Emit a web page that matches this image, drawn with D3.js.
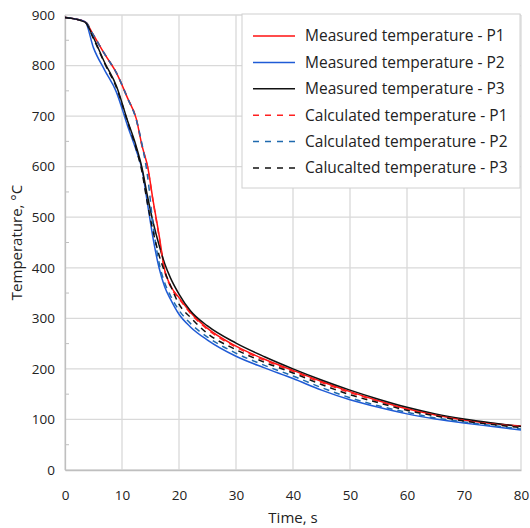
<!DOCTYPE html>
<html>
<head>
<meta charset="utf-8">
<script src="https://cdn.jsdelivr.net/npm/d3@7"></script>
<style>
  body { margin: 0; background: #fff; }
  text { font-family: "Open Sans", sans-serif; fill: #222; }
</style>
</head>
<body>
<script>
var timeS      = [0, 3.5, 5, 7, 9, 11, 12.5, 13.5, 14.5, 15.5, 16.5, 17.5, 18.5, 20, 22, 25, 30, 35, 40, 45, 50, 55, 60, 65, 70, 75, 80]
var measuredP1 = [895, 887, 860, 822, 786, 735, 695, 642, 600, 530, 465, 395, 365, 341, 312, 280, 245, 219, 197, 175, 155, 137, 121, 109, 99, 92, 87]
var measuredP2 = [895, 887, 835, 790, 748, 680, 632, 595, 525, 455, 400, 362, 338, 308, 283, 257, 225, 202, 181, 158, 139, 124, 111, 101, 93, 86, 79]
var measuredP3 = [895, 886, 855, 805, 760, 690, 640, 598, 540, 488, 445, 408, 380, 348, 315, 285, 251, 224, 200, 178, 158, 140, 124, 111, 101, 93, 86]
var calcP1     = [895, 887, 860, 822, 786, 735, 694, 641, 598, 528, 462, 393, 363, 339, 310, 278, 243, 217, 195, 173, 153, 136, 120, 108, 98, 91, 86]
var calcP2     = [895, 887, 860, 822, 786, 735, 693, 645, 580, 480, 410, 370, 345, 316, 290, 263, 231, 207, 186, 163, 143, 127, 114, 103, 95, 88, 81]
var calcP3     = [895, 886, 853, 803, 757, 688, 635, 590, 525, 470, 425, 392, 365, 328, 302, 270, 238, 213, 192, 169, 149, 133, 118, 107, 97, 90, 84]

var seriesNames = ['Measured temperature - P1', 'Measured temperature - P2', 'Measured temperature - P3',
                   'Calculated temperature - P1', 'Calculated temperature - P2', 'Calucalted temperature - P3']
var seriesColors = ['#ff1010', '#1f5bd6', '#111111', '#ff2020', '#1f6aae', '#111111']
var seriesDashed = [false, false, false, true, true, true]
var seriesValues = [measuredP1, measuredP2, measuredP3, calcP1, calcP2, calcP3]

var xTicks = [0, 10, 20, 30, 40, 50, 60, 70, 80]
var yTicks = [0, 100, 200, 300, 400, 500, 600, 700, 800, 900]
var yMinorTicks = [50, 150, 250, 350, 450, 550, 650, 750, 850]

var width = 530, height = 528
var plotLeft = 65, plotRight = 521, plotTop = 15, plotBottom = 470

var svg = d3.select('body').append('svg')
            .attr('width', width)
            .attr('height', height)

var x = d3.scaleLinear().domain([0, 80]).range([plotLeft, plotRight])
var y = d3.scaleLinear().domain([0, 900]).range([plotBottom, plotTop])

// grid
svg.append('g')
  .selectAll('line')
  .data(xTicks)
  .join('line')
  .attr('x1', d => x(d)).attr('x2', d => x(d))
  .attr('y1', plotTop).attr('y2', plotBottom)
  .attr('stroke', '#d9d9d9').attr('stroke-width', 1.3)
svg.append('g')
  .selectAll('line')
  .data(yTicks)
  .join('line')
  .attr('x1', plotLeft).attr('x2', plotRight)
  .attr('y1', d => y(d)).attr('y2', d => y(d))
  .attr('stroke', '#d9d9d9').attr('stroke-width', 1.3)

// axes
var xAxis = svg.append('g')
  .attr('transform', 'translate(0,' + plotBottom + ')')
  .call(d3.axisBottom(x).tickValues(xTicks).tickSize(0).tickPadding(20))
xAxis.select('.domain').attr('stroke', '#bfbfbf').attr('stroke-width', 1.3)
xAxis.selectAll('text').style('font-size', '13.5px').attr('fill', '#222')

var yAxis = svg.append('g')
  .attr('transform', 'translate(' + plotLeft + ',0)')
  .call(d3.axisLeft(y).tickValues(yTicks).tickSize(0).tickPadding(10))
yAxis.select('.domain').attr('stroke', '#bfbfbf').attr('stroke-width', 1.3)
yAxis.selectAll('text').style('font-size', '13.5px').attr('fill', '#222')

svg.append('g')
  .selectAll('line')
  .data(yMinorTicks)
  .join('line')
  .attr('x1', plotLeft).attr('x2', plotLeft + 4)
  .attr('y1', d => y(d)).attr('y2', d => y(d))
  .attr('stroke', '#bfbfbf')

svg.append('text')
  .attr('x', (plotLeft + plotRight) / 2)
  .attr('y', 523)
  .attr('text-anchor', 'middle')
  .style('font-size', '15px')
  .text('Time, s')

svg.append('text')
  .attr('transform', 'translate(22,' + ((plotTop + plotBottom) / 2) + ') rotate(-90)')
  .attr('text-anchor', 'middle')
  .style('font-size', '15px')
  .text('Temperature, °C')

// curves
var line = d3.line()
  .x((d, i) => x(timeS[i]))
  .y(d => y(d))
  .curve(d3.curveMonotoneX)

seriesValues.forEach(function(vals, i) {
  svg.append('path')
    .datum(vals)
    .attr('d', line)
    .attr('fill', 'none')
    .attr('stroke', seriesColors[i])
    .attr('stroke-width', 1.5)
    .attr('stroke-dasharray', seriesDashed[i] ? '6,5' : null)
})

// legend
var legend = svg.append('g').attr('transform', 'translate(242,14)')
legend.append('rect')
  .attr('width', 278).attr('height', 174)
  .attr('fill', '#fff')
  .attr('stroke', '#d0d0d0')

var item = legend.selectAll('g')
  .data(seriesNames)
  .join('g')
  .attr('transform', (d, i) => 'translate(0,' + (22 + i * 26.4) + ')')
item.append('line')
  .attr('x1', 11).attr('x2', 53)
  .attr('stroke', (d, i) => seriesColors[i])
  .attr('stroke-width', 1.5)
  .attr('stroke-dasharray', (d, i) => seriesDashed[i] ? '6,6' : null)
item.append('text')
  .attr('x', 63)
  .attr('dy', '0.35em')
  .style('font-size', '15.5px')
  .text(d => d)
</script>
</body>
</html>
